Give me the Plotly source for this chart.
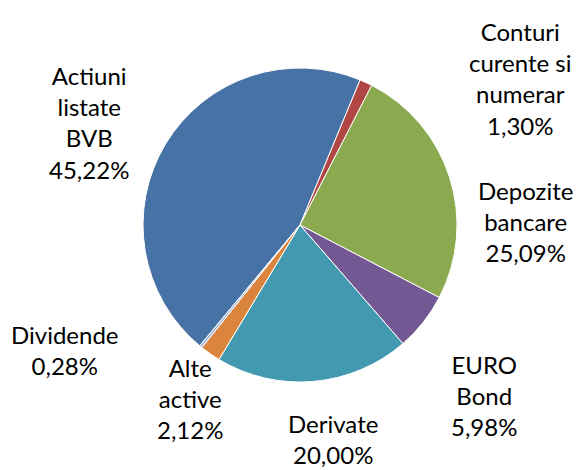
import plotly.graph_objects as go

W, H = 585, 470
OFF = 8  # page body margin: figure is drawn 8px right/down in the window

categories = ["Actiuni listate BVB", "Conturi curente si numerar", "Depozite bancare",
              "EURO Bond", "Derivate", "Alte active", "Dividende"]
label_lines = ["Actiuni<br>listate<br>BVB", "Conturi<br>curente si<br>numerar", "Depozite<br>bancare",
               "EURO<br>Bond", "Derivate", "Alte<br>active", "Dividende"]
values = [45.22, 1.30, 25.09, 5.98, 20.00, 2.12, 0.28]
colors = ["#4672A6", "#B04744", "#8BA94E", "#735893", "#4299B0", "#DB843D", "#A3B8DA"]

# label centre positions in window pixels (x, y from top)
label_pos = [(89, 122), (520, 79), (525, 221), (484, 395), (333, 439), (190, 398), (65, 350)]

cx, cy, r = 300 - OFF, 225 - OFF, 157

fig = go.Figure(go.Pie(
    labels=categories,
    values=values,
    sort=False,
    direction="clockwise",
    rotation=-140.3,
    marker=dict(colors=colors, line=dict(color="white", width=1)),
    textinfo="none",
    hoverinfo="label+percent",
    showlegend=False,
    domain=dict(x=[(cx - r) / W, (cx + r) / W], y=[1 - (cy + r) / H, 1 - (cy - r) / H]),
))

for txt, v, (px, py) in zip(label_lines, values, label_pos):
    fig.add_annotation(
        x=(px - OFF) / W, y=1 - (py - OFF) / H, xref="paper", yref="paper",
        text=f"{txt}<br>{v:.2f}%".replace(".", ","),
        showarrow=False, xanchor="center", yanchor="middle", align="center",
        font=dict(family="Lato", size=24, color="#000000"),
    )

fig.update_layout(
    width=W, height=H,
    margin=dict(l=0, r=0, t=0, b=0),
    paper_bgcolor="white", plot_bgcolor="white",
)

fig.write_html("out.html")
